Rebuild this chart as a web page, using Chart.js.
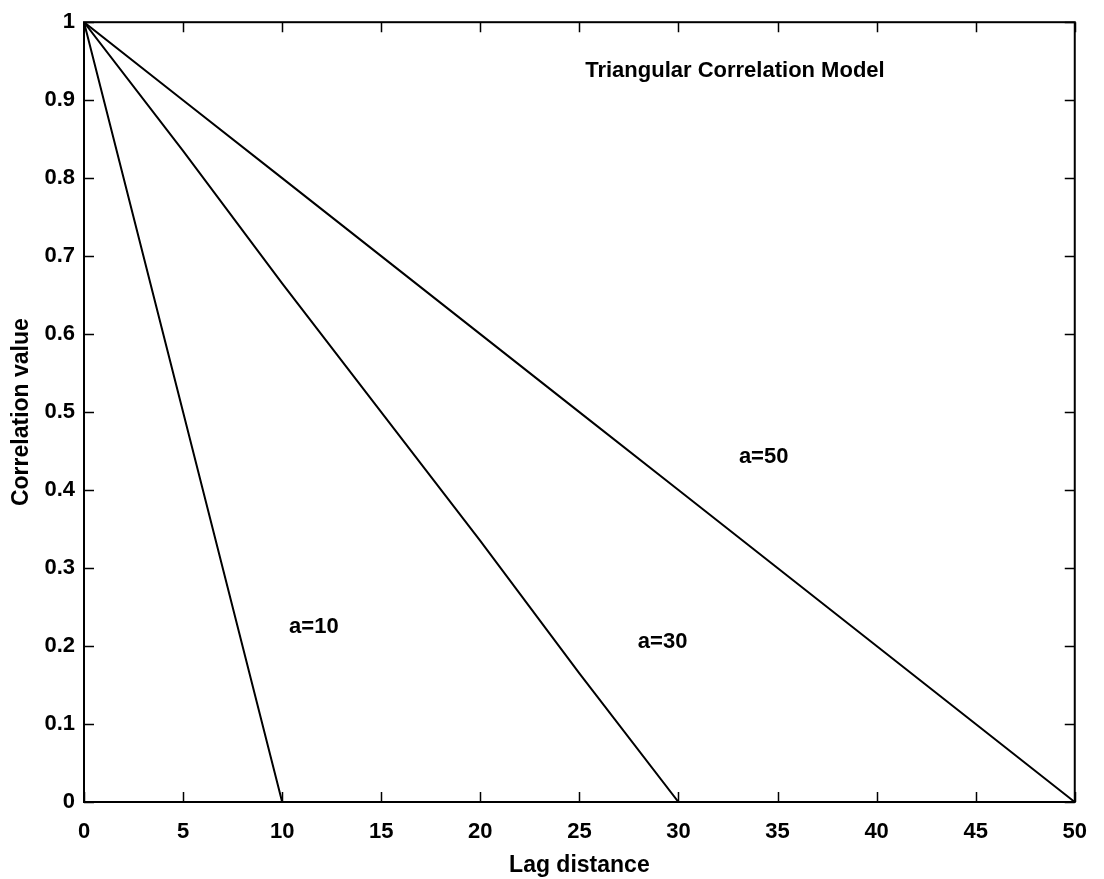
<!DOCTYPE html>
<html>
<head>
<meta charset="utf-8">
<script src="https://cdn.jsdelivr.net/npm/chart.js@4.4.1/dist/chart.umd.min.js"></script>
<style>
  html, body { margin: 0; padding: 0; background: #fff; }
  #wrap { width: 1104px; height: 879px; position: relative; }
</style>
</head>
<body>
<div id="wrap"><canvas id="chart"></canvas></div>
<script>
// --- data ---
const lagA10 = [0, 5, 10];
const corrA10 = [1, 0.5, 0];
const lagA30 = [0, 5, 10, 15, 20, 25, 30];
const corrA30 = [1, 0.835, 0.665, 0.5, 0.335, 0.165, 0];
const lagA50 = [0, 5, 10, 15, 20, 25, 30, 35, 40, 45, 50];
const corrA50 = [1, 0.9, 0.8, 0.7, 0.6, 0.5, 0.4, 0.3, 0.2, 0.1, 0];

const xTicks = [0, 5, 10, 15, 20, 25, 30, 35, 40, 45, 50];
const yTicks = [0, 0.1, 0.2, 0.3, 0.4, 0.5, 0.6, 0.7, 0.8, 0.9, 1];

// labels drawn inside the plot, positioned in data units
const noteText = ['Triangular Correlation Model', 'a=50', 'a=10', 'a=30'];
const noteX = [32.85, 34.3, 11.6, 29.2];
const noteY = [0.937, 0.442, 0.225, 0.205];

const FONT = '"Liberation Sans", Arial, Helvetica, sans-serif';

function toPoints(xs, ys) {
  return xs.map((x, i) => ({ x, y: ys[i] }));
}

// frame box with inward ticks on all four sides + annotations
const framePlugin = {
  id: 'frame',
  afterDraw(chart) {
    const { ctx, chartArea: a, scales: { x, y } } = chart;
    ctx.save();
    ctx.strokeStyle = '#000';
    ctx.lineWidth = 2;
    ctx.strokeRect(a.left, a.top, a.right - a.left, a.bottom - a.top);

    ctx.lineWidth = 1.5;
    const len = 10;
    ctx.beginPath();
    xTicks.forEach(v => {
      const px = Math.round(x.getPixelForValue(v)) + 0.5;
      ctx.moveTo(px, a.bottom); ctx.lineTo(px, a.bottom - len);
      ctx.moveTo(px, a.top); ctx.lineTo(px, a.top + len);
    });
    yTicks.forEach(v => {
      const py = Math.round(y.getPixelForValue(v)) + 0.5;
      ctx.moveTo(a.left, py); ctx.lineTo(a.left + len, py);
      ctx.moveTo(a.right, py); ctx.lineTo(a.right - len, py);
    });
    ctx.stroke();

    ctx.fillStyle = '#000';
    ctx.textBaseline = 'middle';
    ctx.textAlign = 'center';
    ctx.font = 'bold 22px ' + FONT;
    noteText.forEach((t, i) => {
      ctx.fillText(t, x.getPixelForValue(noteX[i]), y.getPixelForValue(noteY[i]));
    });
    ctx.restore();
  }
};

const lineStyle = {
  borderColor: '#000',
  borderWidth: 2,
  pointRadius: 0,
  fill: false,
  tension: 0
};

new Chart(document.getElementById('chart'), {
  type: 'line',
  data: {
    datasets: [
      { label: 'a=10', data: toPoints(lagA10, corrA10), ...lineStyle },
      { label: 'a=30', data: toPoints(lagA30, corrA30), ...lineStyle },
      { label: 'a=50', data: toPoints(lagA50, corrA50), ...lineStyle }
    ]
  },
  options: {
    responsive: true,
    maintainAspectRatio: false,
    animation: false,
    layout: { autoPadding: false, padding: { top: 16, right: 29, left: 0, bottom: 0 } },
    plugins: {
      legend: { display: false },
      tooltip: { enabled: false }
    },
    scales: {
      x: {
        type: 'linear',
        min: 0, max: 50,
        afterBuildTicks: s => { s.ticks = xTicks.map(v => ({ value: v })); },
        afterFit: s => { s.height = 77; },
        grid: { display: false, drawTicks: false },
        border: { display: false },
        ticks: {
          color: '#000',
          padding: 17,
          maxRotation: 0,
          font: { family: FONT, size: 22, weight: 'bold' }
        },
        title: {
          display: true,
          text: 'Lag distance',
          color: '#000',
          padding: { top: 5, bottom: 0 },
          font: { family: FONT, size: 23, weight: 'bold' }
        }
      },
      y: {
        type: 'linear',
        min: 0, max: 1,
        afterBuildTicks: s => { s.ticks = yTicks.map(v => ({ value: v })); },
        afterFit: s => { s.width = 84; },
        grid: { display: false, drawTicks: false },
        border: { display: false },
        ticks: {
          color: '#000',
          padding: 9,
          callback: v => (v === 0 || v === 1) ? String(v) : v.toFixed(1),
          font: { family: FONT, size: 22, weight: 'bold' }
        },
        title: {
          display: true,
          text: 'Correlation value',
          color: '#000',
          padding: { top: 8, bottom: 0 },
          font: { family: FONT, size: 23, weight: 'bold' }
        }
      }
    }
  },
  plugins: [framePlugin]
});
</script>
</body>
</html>
